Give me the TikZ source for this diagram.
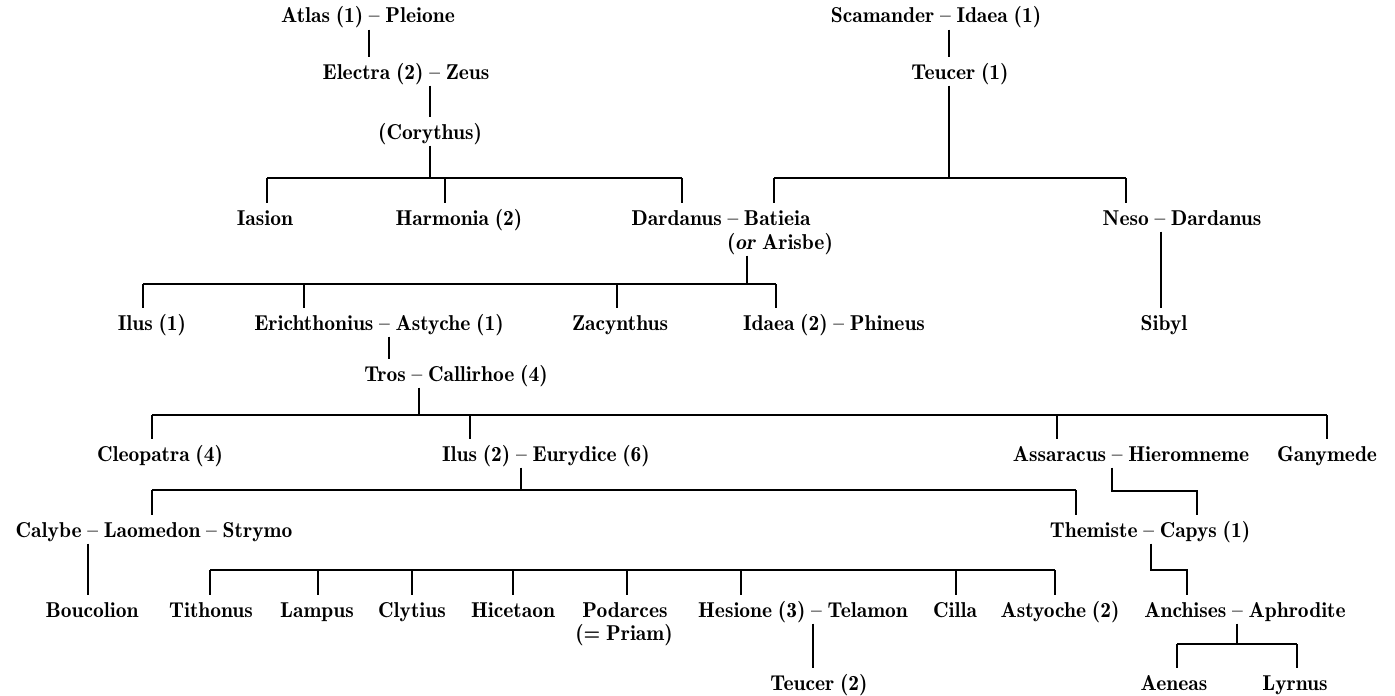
\documentclass[tikz,border=0pt]{standalone}
\usepackage{fontspec}
\setmainfont{lmromandemi10-regular.otf}[ItalicFont=lmromandemi10-oblique.otf,WordSpace=0.8]
\begin{document}
\begin{tikzpicture}[x=1pt,y=-1pt,line width=1.2pt,
  person/.style={anchor=base,inner xsep=0pt,inner ysep=5pt,text height=16pt,text depth=1pt,font=\fontsize{21.5}{25}\selectfont},
  plain/.style={anchor=base,inner sep=0pt,font=\fontsize{21.5}{25}\selectfont}]
\useasboundingbox (0,0) rectangle (1395,696);
% ---------- people ----------
\node[person] (atlas)    at (368,23)  {Atlas (1) – Pleione};
\node[person] (scam)     at (936,23)  {Scamander – Idaea (1)};
\node[person] (electra)  at (406,79)  {Electra (2) – Zeus};
\node[person] (teucerA)  at (960,79)  {Teucer (1)};
\node[person] (cory)     at (430,139) {(Corythus)};
\node[person] (iasion)   at (265,225) {Iasion};
\node[person] (harmonia) at (459,225) {Harmonia (2)};
\node[person] (dardanus) at (721,225) {Dardanus – Batieia};
\node[person] (arisbe)   at (780,249) {(\textit{or} Arisbe)};
\node[person] (neso)     at (1182,225) {Neso – Dardanus};
\node[person] (ilusA)    at (152,330) {Ilus (1)};
\node[person] (erich)    at (379,330) {Erichthonius – Astyche (1)};
\node[person] (zacy)     at (620,330) {Zacynthus};
\node[person] (idaeaB)   at (834,330) {Idaea (2) – Phineus};
\node[person] (sibyl)    at (1164,330) {Sibyl};
\node[person] (tros)     at (456,381) {Tros – Callirhoe (4)};
\node[person] (cleo)     at (160,461) {Cleopatra (4)};
\node[person] (ilusB)    at (546,461) {Ilus (2) – Eurydice (6)};
\node[person] (assar)    at (1131,461) {Assaracus – Hieromneme};
\node[person] (gany)     at (1327,461) {Ganymede};
\node[person] (calybe)   at (154,537) {Calybe – Laomedon – Strymo};
\node[person] (themiste) at (1150,537) {Themiste – Capys (1)};
\node[person] (boucolion) at (92,617) {Boucolion};
\node[person] (tithonus) at (211,617) {Tithonus};
\node[person] (lampus)   at (317,617) {Lampus};
\node[person] (clytius)  at (412,617) {Clytius};
\node[person] (hicetaon) at (513,617) {Hicetaon};
\node[person] (podarces) at (625,617) {Podarces};
\node[plain]  (priam)    at (624,640) {(= Priam)};
\node[person] (hesione)  at (803,617) {Hesione (3) – Telamon};
\node[person] (cilla)    at (955,617) {Cilla};
\node[person] (astyoche) at (1060,617) {Astyoche (2)};
\node[person] (anchises) at (1245,617) {Anchises – Aphrodite};
\node[person] (teucerB)  at (819,690) {Teucer (2)};
\node[person] (aeneas)   at (1174,690) {Aeneas};
\node[person] (lyrnus)   at (1295,690) {Lyrnus};
% ---------- joints ----------
\coordinate (kAtlas) at (369,0);
\coordinate (kCory)  at (430,178);
\coordinate (dIasion) at (267,178);
\coordinate (dHarm)  at (445,178);
\coordinate (dDardA) at (682,178);
\coordinate (kTeuc)  at (949,178);
\coordinate (dDardB) at (774,178);
\coordinate (dNeso)  at (1126,178);
\coordinate (kDard)  at (747,284);
\coordinate (dIlusA) at (143,284);
\coordinate (dErich) at (304,284);
\coordinate (dZacy)  at (617,284);
\coordinate (dIdaea) at (776,284);
\coordinate (kNeso)  at (1161,0);
\coordinate (kErich) at (389,0);
\coordinate (kTros)  at (419,415);
\coordinate (dCleo)  at (152,415);
\coordinate (dIlusB) at (470,415);
\coordinate (dAssar) at (1057,415);
\coordinate (dGany)  at (1327,415);
\coordinate (kIlusB) at (521,490);
\coordinate (dCalybe) at (152,490);
\coordinate (dThem)  at (1076,490);
\coordinate (kAssar) at (1112,491);
\coordinate (dCapys) at (1197,491);
\coordinate (kCal)   at (88,0);
\coordinate (dTith)  at (210,570);
\coordinate (dLamp)  at (318,570);
\coordinate (dClyt)  at (412,570);
\coordinate (dHice)  at (513,570);
\coordinate (dPoda)  at (627,570);
\coordinate (dHesi)  at (741,570);
\coordinate (dCilla) at (956,570);
\coordinate (dAsty)  at (1055,570);
\coordinate (kThem)  at (1151,570);
\coordinate (dAnch)  at (1187,570);
\coordinate (kHes)   at (813,0);
\coordinate (kAnch)  at (1237,644);
\coordinate (dAen)   at (1177,644);
\coordinate (dLyr)   at (1297,644);
% ---------- connectors ----------
\draw (atlas.south -| kAtlas) -- (electra.north -| kAtlas);
\draw (electra.south -| kCory) -- (cory.north -| kCory);
\draw (cory.south -| kCory) -- (kCory);
\draw (dIasion) -- (dDardA);
\draw (dIasion) -- (iasion.north -| dIasion);
\draw (dHarm) -- (harmonia.north -| dHarm);
\draw (dDardA) -- (dardanus.north -| dDardA);
\draw (scam.south -| kTeuc) -- (teucerA.north -| kTeuc);
\draw (teucerA.south -| kTeuc) -- (kTeuc);
\draw (dDardB) -- (dNeso);
\draw (dDardB) -- (dardanus.north -| dDardB);
\draw (dNeso) -- (neso.north -| dNeso);
\draw (arisbe.south -| kDard) -- (kDard);
\draw (dIlusA) -- (dIdaea);
\draw (dIlusA) -- (ilusA.north -| dIlusA);
\draw (dErich) -- (erich.north -| dErich);
\draw (dZacy) -- (zacy.north -| dZacy);
\draw (dIdaea) -- (idaeaB.north -| dIdaea);
\draw (neso.south -| kNeso) -- (sibyl.north -| kNeso);
\draw (erich.south -| kErich) -- (tros.north -| kErich);
\draw (tros.south -| kTros) -- (kTros);
\draw (dCleo) -- (dGany);
\draw (dCleo) -- (cleo.north -| dCleo);
\draw (dIlusB) -- (ilusB.north -| dIlusB);
\draw (dAssar) -- (assar.north -| dAssar);
\draw (dGany) -- (gany.north -| dGany);
\draw (ilusB.south -| kIlusB) -- (kIlusB);
\draw (dCalybe) -- (dThem);
\draw (dCalybe) -- (calybe.north -| dCalybe);
\draw (dThem) -- (themiste.north -| dThem);
\draw (assar.south -| kAssar) -- (kAssar) -- (dCapys) -- (themiste.north -| dCapys);
\draw (calybe.south -| kCal) -- (boucolion.north -| kCal);
\draw (dTith) -- (dAsty);
\draw (dTith) -- (tithonus.north -| dTith);
\draw (dLamp) -- (lampus.north -| dLamp);
\draw (dClyt) -- (clytius.north -| dClyt);
\draw (dHice) -- (hicetaon.north -| dHice);
\draw (dPoda) -- (podarces.north -| dPoda);
\draw (dHesi) -- (hesione.north -| dHesi);
\draw (dCilla) -- (cilla.north -| dCilla);
\draw (dAsty) -- (astyoche.north -| dAsty);
\draw (themiste.south -| kThem) -- (kThem) -- (dAnch) -- (anchises.north -| dAnch);
\draw (hesione.south -| kHes) -- (teucerB.north -| kHes);
\draw (anchises.south -| kAnch) -- (kAnch);
\draw (dAen) -- (dLyr);
\draw (dAen) -- (aeneas.north -| dAen);
\draw (dLyr) -- (lyrnus.north -| dLyr);
\end{tikzpicture}
\end{document}
